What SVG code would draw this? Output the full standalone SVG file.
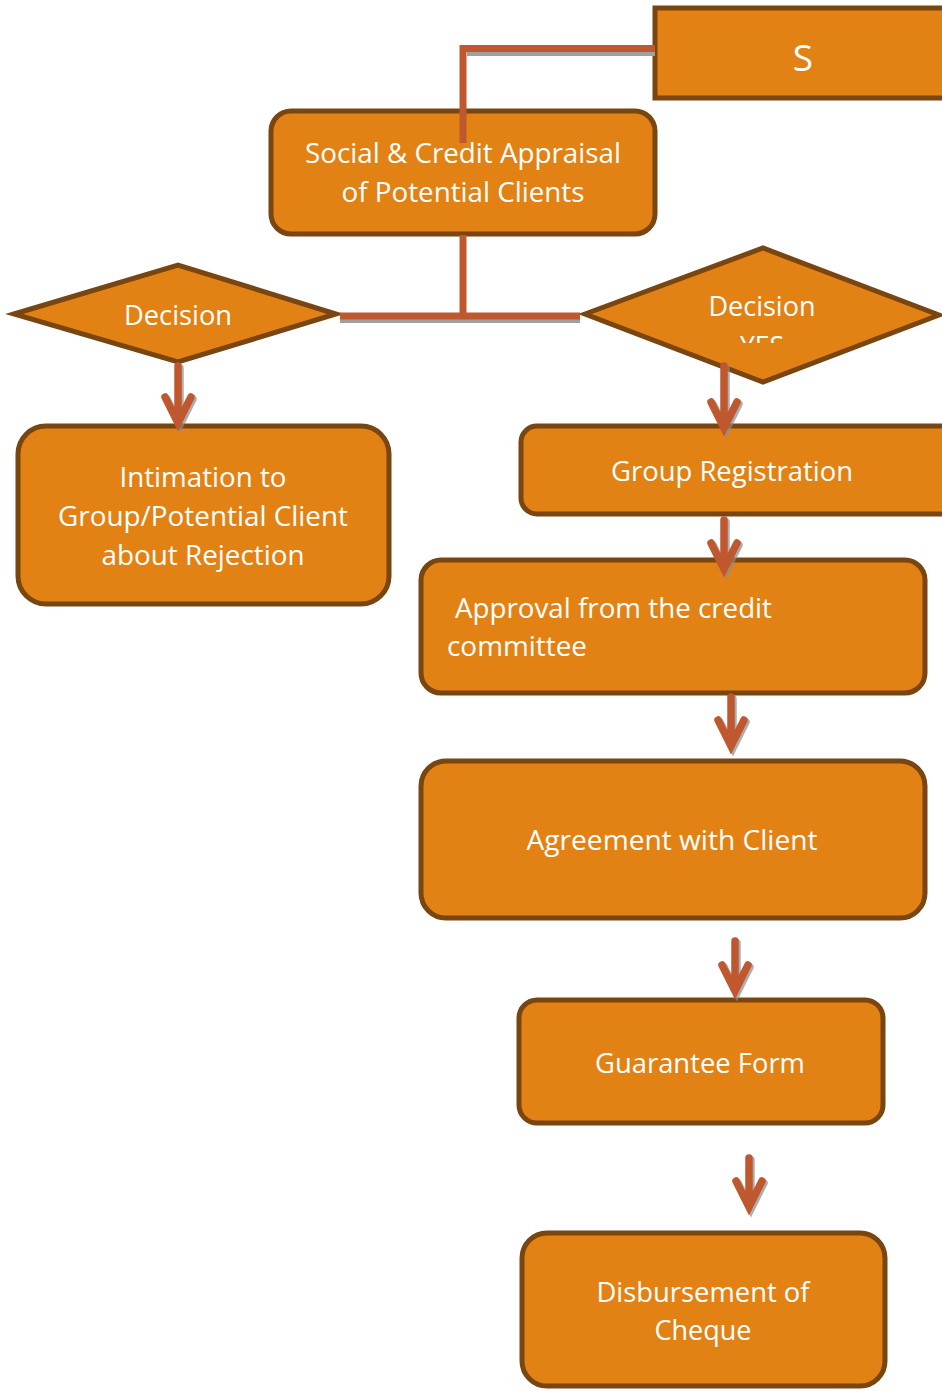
<svg xmlns="http://www.w3.org/2000/svg" width="942" height="1391" viewBox="0 0 942 1391">
<style>
.box{fill:#e38214;stroke:#794510;stroke-width:5}
.t{font-family:"Open Sans","Noto Sans","Liberation Sans",sans-serif;font-size:27px;fill:#ffffff}
.c{text-anchor:middle}
.conn{stroke:#c0582f;stroke-width:7;fill:none}
.shadow{stroke:#a0a0a0;stroke-width:4;fill:none}
.arr{stroke:#c0582f;stroke-width:7.5;fill:none;stroke-linecap:round;stroke-linejoin:miter}
.arrs{stroke:#8c8c8c;stroke-width:7.5;fill:none;stroke-linecap:round;stroke-linejoin:miter;opacity:0.7}
</style>
<defs>
<clipPath id="yesclip"><rect x="600" y="300" width="300" height="43"/></clipPath>
</defs>
<rect width="942" height="1391" fill="#ffffff"/>

<g id="node-s">
<rect class="box" x="655" y="8" width="300" height="90"/>
<text class="t c" x="803" y="71" style="font-size:37px">S</text>
</g>

<g id="node-social">
<rect class="box" x="271" y="111" width="384" height="123" rx="20"/>
<text class="t c" x="463" y="163" textLength="316" lengthAdjust="spacingAndGlyphs">Social &amp; Credit Appraisal</text>
<text class="t c" x="463" y="202" textLength="243" lengthAdjust="spacingAndGlyphs">of Potential Clients</text>
</g>

<g id="node-decision-left">
<polygon class="box" points="14,314 178,265 336,314 178,362"/>
<text class="t c" x="178" y="325" textLength="108" lengthAdjust="spacingAndGlyphs">Decision</text>
</g>

<g id="node-decision-right">
<polygon class="box" points="585,314 763,248 939,315 763,382"/>
<text class="t c" x="762" y="316" textLength="107" lengthAdjust="spacingAndGlyphs">Decision</text>
<text class="t c" x="762" y="356" clip-path="url(#yesclip)" textLength="44" lengthAdjust="spacingAndGlyphs">YES</text>
</g>

<g id="node-intimation">
<rect class="box" x="18" y="426" width="371" height="178" rx="28"/>
<text class="t c" x="203" y="487" textLength="167" lengthAdjust="spacingAndGlyphs">Intimation to</text>
<text class="t c" x="203" y="526" textLength="290" lengthAdjust="spacingAndGlyphs">Group/Potential Client</text>
<text class="t c" x="203" y="565" textLength="203" lengthAdjust="spacingAndGlyphs">about Rejection</text>
</g>

<g id="node-group-registration">
<rect class="box" x="521" y="426" width="440" height="88" rx="16"/>
<text class="t c" x="732" y="481" textLength="242" lengthAdjust="spacingAndGlyphs">Group Registration</text>
</g>

<g id="node-approval">
<rect class="box" x="421" y="560" width="504" height="133" rx="20"/>
<text class="t" x="455" y="618" textLength="317" lengthAdjust="spacingAndGlyphs">Approval from the credit</text>
<text class="t" x="447" y="656" textLength="140" lengthAdjust="spacingAndGlyphs">committee</text>
</g>

<g id="node-agreement">
<rect class="box" x="421" y="761" width="504" height="157" rx="25"/>
<text class="t c" x="672" y="850" textLength="291" lengthAdjust="spacingAndGlyphs">Agreement with Client</text>
</g>

<g id="node-guarantee">
<rect class="box" x="519" y="1000" width="364" height="123" rx="18"/>
<text class="t c" x="700" y="1073" textLength="210" lengthAdjust="spacingAndGlyphs">Guarantee Form</text>
</g>

<g id="node-disbursement">
<rect class="box" x="522" y="1233" width="363" height="153" rx="25"/>
<text class="t c" x="703" y="1302" textLength="213" lengthAdjust="spacingAndGlyphs">Disbursement of</text>
<text class="t c" x="703" y="1340" textLength="97" lengthAdjust="spacingAndGlyphs">Cheque</text>
</g>

<g id="connectors">
<path class="shadow" d="M467,54 H655"/>
<path class="conn" d="M655,48.5 H463 V143"/>
<path class="shadow" d="M340,321 H580"/>
<path class="conn" d="M463,235 V316"/>
<path class="conn" d="M340,316 H580"/>

<g transform="translate(2,2)">
<path class="arrs" d="M178,366 V418 M165,397 L178,423 L191,397"/>
<path class="arrs" d="M724,366 V423 M711,402 L724,428 L737,402"/>
<path class="arrs" d="M724,520 V563 M711,543 L724,569 L737,543"/>
<path class="arrs" d="M731,697 V740 M718,720 L731,746 L744,720"/>
<path class="arrs" d="M735,941 V985 M722,965 L735,991 L748,965"/>
<path class="arrs" d="M749,1158 V1201 M736,1181 L749,1207 L762,1181"/>
</g>
<path class="arr" d="M178,366 V418 M165,397 L178,423 L191,397"/>
<path class="arr" d="M724,366 V423 M711,402 L724,428 L737,402"/>
<path class="arr" d="M724,520 V563 M711,543 L724,569 L737,543"/>
<path class="arr" d="M731,697 V740 M718,720 L731,746 L744,720"/>
<path class="arr" d="M735,941 V985 M722,965 L735,991 L748,965"/>
<path class="arr" d="M749,1158 V1201 M736,1181 L749,1207 L762,1181"/>
</g>
</svg>
